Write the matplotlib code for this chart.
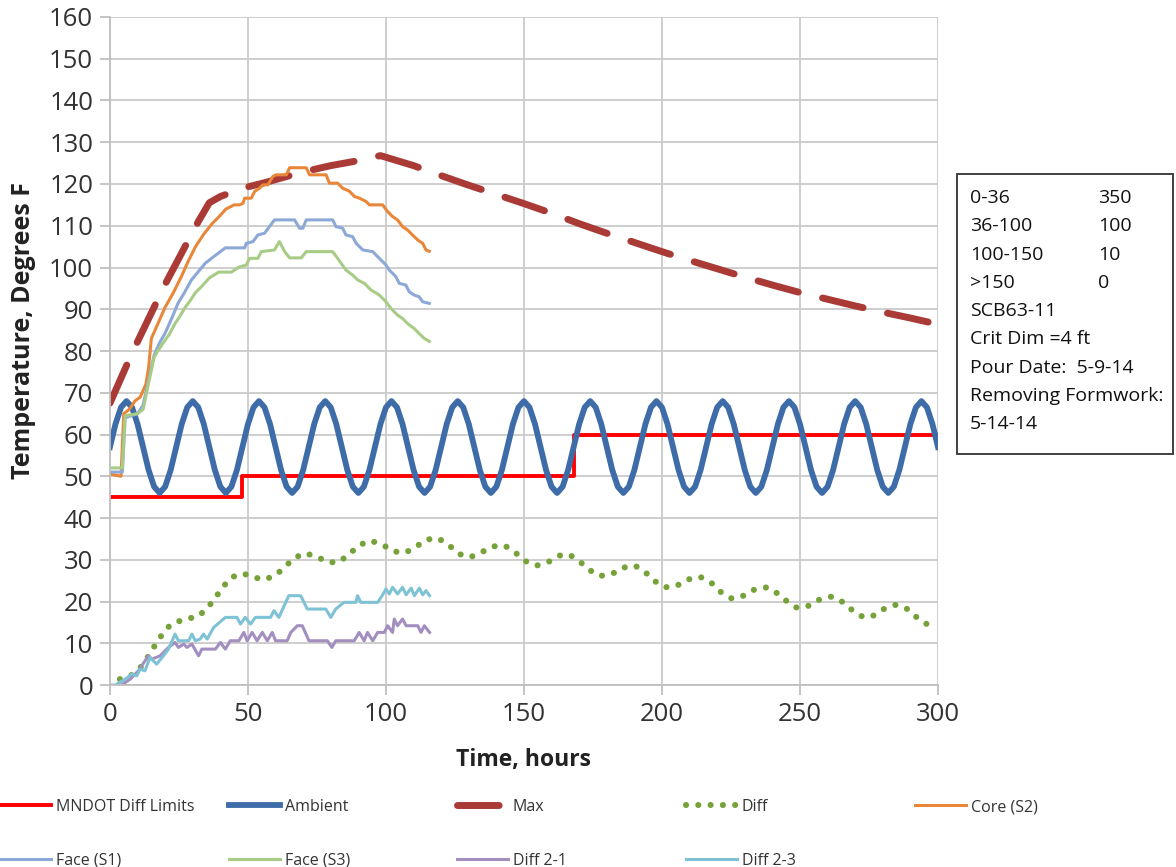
#!/usr/bin/env python3
"""
Concrete pour temperature record for SCB63-11: core, faces, ambient and
differentials against the MNDOT differential limits.
"""

import matplotlib
matplotlib.use("Agg")
import matplotlib.pyplot as plt
from matplotlib.patches import Rectangle

# ---------------------------------------------------------------------------
# Data
# ---------------------------------------------------------------------------
limit_t = [0, 48, 168, 300]
limit_v = [45, 50, 60, 60]

ambient_t = list(range(0, 301, 2))
ambient_v = [
    57, 62.5, 66.5, 68, 66.5, 62.5, 57, 51.5, 47.5, 46, 47.5, 51.5,
    57, 62.5, 66.5, 68, 66.5, 62.5, 57, 51.5, 47.5, 46, 47.5, 51.5,
    57, 62.5, 66.5, 68, 66.5, 62.5, 57, 51.5, 47.5, 46, 47.5, 51.5,
    57, 62.5, 66.5, 68, 66.5, 62.5, 57, 51.5, 47.5, 46, 47.5, 51.5,
    57, 62.5, 66.5, 68, 66.5, 62.5, 57, 51.5, 47.5, 46, 47.5, 51.5,
    57, 62.5, 66.5, 68, 66.5, 62.5, 57, 51.5, 47.5, 46, 47.5, 51.5,
    57, 62.5, 66.5, 68, 66.5, 62.5, 57, 51.5, 47.5, 46, 47.5, 51.5,
    57, 62.5, 66.5, 68, 66.5, 62.5, 57, 51.5, 47.5, 46, 47.5, 51.5,
    57, 62.5, 66.5, 68, 66.5, 62.5, 57, 51.5, 47.5, 46, 47.5, 51.5,
    57, 62.5, 66.5, 68, 66.5, 62.5, 57, 51.5, 47.5, 46, 47.5, 51.5,
    57, 62.5, 66.5, 68, 66.5, 62.5, 57, 51.5, 47.5, 46, 47.5, 51.5,
    57, 62.5, 66.5, 68, 66.5, 62.5, 57, 51.5, 47.5, 46, 47.5, 51.5,
    57, 62.5, 66.5, 68, 66.5, 62.5, 57,
]

max_t = [0, 4, 8, 12, 16, 20, 24, 28, 32, 36, 40, 48, 56, 64, 72, 80, 90,
         98, 110, 120, 130, 140, 150, 160, 170, 180, 190, 200, 210, 220,
         230, 240, 250, 260, 270, 280, 290, 300]
max_v = [67.5, 73.5, 79.5, 85, 90.5, 96, 101, 106, 111, 115.5, 117, 119,
         120.3, 121.8, 123.2, 124.4, 125.6, 126.8, 124.4, 122, 119.7, 117.5,
         115.3, 113, 110.5, 108.2, 106, 103.8, 101.7, 99.7, 97.7, 95.8, 94,
         92.4, 90.8, 89.3, 87.9, 86.4]

diff_t = [3.6, 7.9, 11.3, 14, 16.4, 19, 22, 26.7, 31.9, 35.3, 38.2, 40.8,
          44, 48.2, 52.5, 55.2, 59.4, 63, 66.3, 70.4, 74.8, 78.9, 82.8,
          86.7, 90, 94.3, 98.8, 102.7, 107, 110.7, 114.5, 118.8, 122.8,
          126.4, 130.5, 134.9, 138.8, 143, 146.9, 150.4, 154.6, 158.9,
          162.9, 166.3, 170, 173.6, 177.5, 181.9, 185.9, 190.2, 193.7,
          197.1, 201.1, 205.4, 209.6, 213.9, 218, 221.3, 225.3, 229.6,
          233.6, 238.1, 242.2, 245.7, 248.9, 253.3, 257.2, 261.6, 265.7,
          269.3, 273.1, 276.5, 280.4, 284.7, 288.9, 292.5, 296.4, 300]
diff_v = [1.4, 2.4, 4.4, 7, 9.6, 12.2, 14.5, 15.7, 16.4, 18.4, 20.9, 23.4,
          25.8, 26.7, 25.8, 25.2, 26, 28, 30.2, 31.6, 30.8, 29.4, 29.4,
          31.3, 33.4, 34.6, 33.6, 32, 31.7, 33, 34.8, 35.2, 33.5, 31.4,
          30.6, 31.9, 33.2, 33.4, 31.7, 29.7, 28.6, 29.5, 31, 31.3, 29.7,
          27.6, 26.1, 26.6, 28.1, 28.6, 27.2, 25, 23.4, 23.8, 25.3, 25.9,
          24.4, 22.3, 20.7, 21.4, 22.9, 23.4, 21.8, 19.8, 18.5, 19, 20.5,
          21.2, 19.8, 17.7, 16.2, 16.6, 18.2, 19.2, 18.2, 16.1, 14.4, 14.9]

core_t = [0, 4, 5, 7, 9, 11, 13, 14, 15, 17, 20, 23, 26, 28, 31, 34, 37,
          40, 42, 45, 47, 48.2, 48.8, 51.2, 52.4, 54.2, 55.4, 57.2, 59,
          60.2, 63.9, 65.1, 71.1, 72.3, 78.3, 79.5, 82.5, 84.3, 86.7, 88.6,
          90.4, 92.8, 94, 98.8, 100.6, 102.4, 104.2, 106, 107.8, 109.6,
          111.5, 113.3, 114.5, 115.7]
core_v = [50.5, 50, 65, 66, 68, 69, 72, 76, 83, 86, 90.5, 94, 98, 101, 105,
          108, 110.5, 112.5, 114, 115, 115, 115.4, 116.6, 116.6, 118.2, 119,
          119.8, 119.8, 121.8, 122.2, 122.2, 123.9, 123.9, 122.2, 122.2,
          120.2, 120.2, 119, 118.3, 117, 116.6, 115.8, 115, 115, 113.4,
          112.2, 111.4, 109.8, 109, 107.8, 106.6, 105.8, 104.2, 103.9]

face1_t = [0, 4.5, 5.5, 10, 12, 14, 16, 18, 20, 22.5, 24.7, 27, 29.5, 32,
           34.5, 37, 39.4, 41.8, 47, 48.8, 49.4, 51.8, 53.6, 56, 57.8, 59.6,
           66.9, 68.7, 69.9, 71.1, 80.7, 81.9, 84.3, 85.5, 87.9, 89.2, 91.6,
           95.2, 97.6, 100, 101.2, 103.6, 104.8, 107.2, 108.4, 110.2, 112,
           113.3, 115.7]
face1_v = [51, 51, 64, 65, 67, 73, 79, 82, 84.3, 88, 91.5, 94, 97, 99, 101,
           102.3, 103.5, 104.7, 104.7, 104.7, 105.8, 106.2, 107.8, 108.2,
           109.8, 111.4, 111.4, 109.4, 109.4, 111.4, 111.4, 109.8, 109.4,
           107.8, 107.4, 105.8, 104.2, 103.8, 102.2, 100.6, 99.4, 97.8, 96.2,
           95.8, 94.2, 93.4, 93, 91.8, 91.4]

face3_t = [0, 4.5, 5.5, 10, 12, 14, 16, 17.5, 20, 21.5, 23.7, 25.5, 27.3,
           29, 31, 33.3, 36, 39.4, 44, 46.7, 49.4, 50.6, 53.6, 54.8, 59.6,
           61.4, 63.3, 65.1, 69.3, 71.1, 80.7, 82.5, 85.5, 87.9, 89.8, 92.2,
           94.6, 97.6, 100, 101.8, 104.2, 106, 107.8, 110.2, 112, 113.9, 115.7]
face3_v = [52, 52, 64.5, 65, 66, 72.3, 78.5, 80.2, 82.6, 84, 86.7, 88.5,
           90.5, 92, 94, 95.5, 97.5, 98.9, 98.9, 100.1, 100.6, 102.2, 102.2,
           103.8, 104.2, 106.2, 103.8, 102.3, 102.3, 103.8, 103.8, 102.2,
           99.4, 98.2, 97, 96.2, 94.6, 93.4, 91.8, 90.2, 88.6, 87.8, 86.6,
           85.4, 84.2, 83, 82.3]

d21_t = [4.2, 7.3, 10.3, 13.9, 15.2, 18.2, 21.2, 23.6, 24.8, 26.7, 27.9,
         29.7, 32.1, 33.3, 38.2, 40, 41.8, 43.6, 46.7, 48.5, 49.7, 51.5,
         53.3, 55.2, 57, 58.8, 60, 64.2, 65.5, 67.9, 69.7, 72.1, 78.8, 80.4,
         81.8, 88.5, 90.3, 92.1, 93.3, 95.2, 97, 99.4, 100.6, 102.4, 103,
         104.2, 106, 107.3, 111.5, 112.7, 113.9, 115.8]
d21_v = [0, 1.4, 3.4, 7, 6.2, 7, 9, 10.2, 9, 9.8, 9, 9.8, 7, 8.6, 8.6, 10.2,
         8.6, 10.6, 10.6, 12.6, 10.6, 12.6, 10.6, 12.6, 10.6, 12.6, 10.6,
         10.6, 12.6, 14.2, 14.2, 10.6, 10.6, 9, 10.6, 10.6, 12.6, 10.6, 12.6,
         10.6, 12.6, 12.6, 14.2, 12.6, 15.8, 14.2, 15.8, 14.2, 14.2, 12.6,
         14.2, 12.6]

d23_t = [0, 2, 5.5, 7.9, 9.7, 10.9, 12.7, 14.5, 16.9, 19.4, 21.2, 23.6,
         24.8, 28.5, 29.7, 30.9, 32.7, 33.9, 35.2, 37.6, 41.8, 46, 47.3, 49,
         50.9, 52.7, 58.2, 59.4, 61.2, 64.8, 69.1, 71.5, 78.2, 80, 81.8,
         84.8, 89.1, 89.7, 90.9, 97, 98.8, 100, 101.2, 102.4, 104.2, 106,
         107.3, 109.1, 110.3, 112.1, 113.3, 114.5, 115.8]
d23_v = [0, 0, 1.4, 2.6, 2.2, 3.8, 3.4, 6.6, 5, 7, 8.6, 12.2, 10.6, 10.6,
         12.2, 10.6, 11, 12.2, 11, 13.8, 16.2, 16.2, 14.6, 16.2, 14.6, 16.2,
         16.2, 17.8, 16.2, 21.4, 21.4, 18.2, 18.2, 16.2, 18.2, 19.8, 19.8,
         21.4, 19.8, 19.8, 21.6, 23, 21.8, 23.4, 21.8, 23.4, 21.6, 23.2,
         21.4, 23.2, 21.6, 22.6, 21.4]

info_left = ["0-36", "36-100", "100-150", ">150", "SCB63-11",
             "Crit Dim =4 ft", "Pour Date:  5-9-14", "Removing Formwork:",
             "5-14-14"]
info_right = ["350", "100", "10", "0"]


def plot_pour_temps():
    plt.rcParams['font.family'] = ['Open Sans', 'DejaVu Sans']

    fig = plt.figure(figsize=(11.76, 8.67), dpi=100)
    ax = fig.add_axes([0.0935, 0.2099, 0.7041, 0.7705])

    # Series, in the same order as the spreadsheet legend
    h_lim, = ax.plot(limit_t, limit_v, drawstyle="steps-post", color="#FF0000",
                     linewidth=2.8, label="MNDOT Diff Limits")
    h_amb, = ax.plot(ambient_t, ambient_v, color="#3E6CA8", linewidth=4.2,
                     solid_joinstyle="round", label="Ambient")
    h_max, = ax.plot(max_t, max_v, color="#A93A36", linewidth=5.0,
                     dashes=(6.0, 3.6), dash_capstyle="round", label="Max")
    h_diff, = ax.plot(diff_t, diff_v, color="#77A23A", linewidth=4.4,
                      dashes=(0.01, 2.0), dash_capstyle="round", label="Diff")
    h_core, = ax.plot(core_t, core_v, color="#E8873A", linewidth=2.2,
                      label="Core (S2)")
    h_f1, = ax.plot(face1_t, face1_v, color="#8CA8D6", linewidth=2.2,
                    label="Face (S1)")
    h_f3, = ax.plot(face3_t, face3_v, color="#A8CC86", linewidth=2.2,
                    label="Face (S3)")
    h_21, = ax.plot(d21_t, d21_v, color="#A38EC0", linewidth=2.2,
                    label="Diff 2-1")
    h_23, = ax.plot(d23_t, d23_v, color="#7EC2D6", linewidth=2.2,
                    label="Diff 2-3")

    ax.set_xlim(0, 300)
    ax.set_ylim(0, 160)
    ax.set_xticks(range(0, 301, 50))
    ax.set_yticks(range(0, 161, 10))
    ax.grid(True, color="#CACACA", linewidth=1.3)
    ax.set_axisbelow(True)
    for side in ["top", "right"]:
        ax.spines[side].set_visible(False)
    for side in ["left", "bottom"]:
        ax.spines[side].set_color("#BFBFBF")
        ax.spines[side].set_linewidth(1.3)
    ax.tick_params(direction="out", length=7, width=1.3, color="#BFBFBF",
                   labelcolor="#333333", labelsize=18.5, pad=5)

    ax.set_xlabel("Time, hours", fontsize=16.5, fontweight="bold",
                  color="#222222", labelpad=15)
    ax.set_ylabel("Temperature, Degrees F", fontsize=18, fontweight="bold",
                  color="#222222")
    ax.yaxis.set_label_coords(-0.089, 0.53)

    # Legend: five columns, two rows, equal column pitch
    columns = [[h_lim, h_f1], [h_amb, h_f3], [h_max, h_21], [h_diff, h_23],
               [h_core]]
    col_x = [0, 229, 457, 686, 915]
    for handles, x in zip(columns, col_x):
        fig.legend(handles=handles, loc="upper left",
                   bbox_to_anchor=(x / 1176, 1 - 799 / 867),
                   frameon=False, fontsize=11.5, handlelength=3.2,
                   handletextpad=0.3, borderpad=0, borderaxespad=0,
                   labelspacing=2.35, labelcolor="#333333")

    # Info box on the right
    fig.add_artist(Rectangle((957 / 1176, 1 - 454 / 867),
                             (1173 - 957) / 1176, (454 - 174) / 867,
                             transform=fig.transFigure, facecolor="white",
                             edgecolor="#333333", linewidth=1.3))
    for i, txt in enumerate(info_left):
        fig.text(970 / 1176, 1 - (198 + 28.3 * i) / 867, txt, fontsize=14,
                 va="center", ha="left", color="#111111")
    for i, txt in enumerate(info_right):
        fig.text(1098 / 1176, 1 - (198 + 28.3 * i) / 867, txt, fontsize=14,
                 va="center", ha="left", color="#111111")

    fig.savefig("out.png", dpi=100)


if __name__ == "__main__":
    plot_pour_temps()
